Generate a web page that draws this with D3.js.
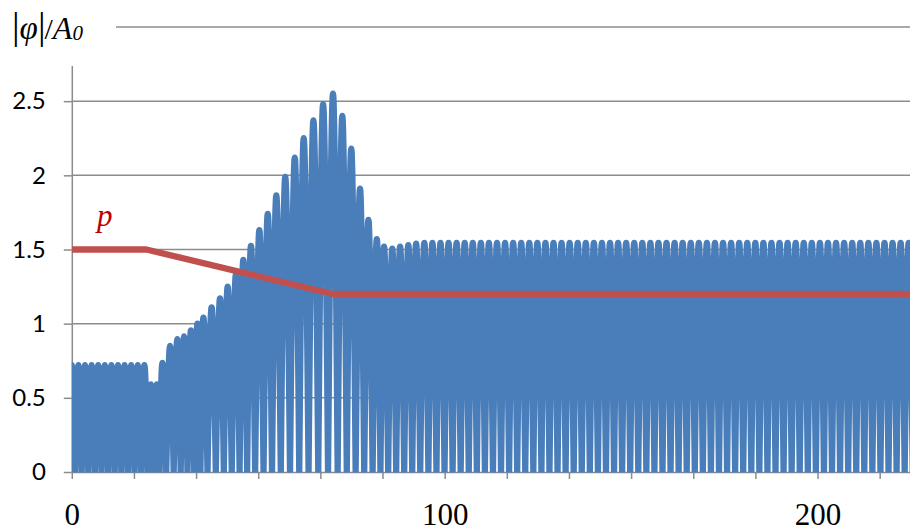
<!DOCTYPE html>
<html>
<head>
<meta charset="utf-8">
<script src="https://cdn.jsdelivr.net/npm/d3@7"></script>
<style>
  html, body { margin: 0; padding: 0; background: #fff; }
  svg { display: block; }
</style>
</head>
<body>
<svg id="chart" width="910" height="532"></svg>
<script>
// |φ|/A0 oscillation: time of each crest and its height (troughs return to 0)
const peakTime = [
  0, 1.77, 3.54, 5.31, 7.08, 8.85, 10.62, 12.39, 14.16, 15.93, 17.70, 19.47,
  21.2, 22.8,
  24.3, 26.35, 28.3, 30.1, 31.95, 33.7, 35.3, 37.5, 39.75, 41.8, 44.0, 46.0,
  48.05, 50.3, 52.55, 54.85, 57.25, 59.8, 62.2, 64.8, 67.4, 70.05, 72.55, 74.95,
  77.3, 79.55, 81.8, 83.75, 85.95, 88.05, 90.25, 92.35,
  94.55, 96.72, 98.88, 101.05, 103.21, 105.38, 107.54, 109.71, 111.87, 114.04,
  116.2, 118.37, 120.53, 122.7, 124.86, 127.03, 129.19, 131.36, 133.52, 135.69,
  137.85, 140.02, 142.18, 144.35, 146.51, 148.68, 150.84, 153.01, 155.17, 157.34,
  159.5, 161.67, 163.83, 166.0, 168.16, 170.33, 172.49, 174.66, 176.82, 178.99,
  181.15, 183.32, 185.48, 187.65, 189.81, 191.98, 194.14, 196.31, 198.47, 200.64,
  202.8, 204.97, 207.13, 209.3, 211.46, 213.63, 215.79, 217.96, 220.12, 222.29,
  224.45
];
const peakValue = [
  0.72, 0.72, 0.72, 0.72, 0.72, 0.72, 0.72, 0.72, 0.72, 0.72, 0.72, 0.72,
  0.59, 0.59,
  0.735, 0.85, 0.895, 0.915, 0.955, 1.0, 1.04, 1.11, 1.17, 1.25, 1.33, 1.43,
  1.525, 1.63, 1.74, 1.865, 1.99, 2.12, 2.25, 2.37, 2.48, 2.55, 2.40, 2.18,
  1.91, 1.70, 1.57, 1.52, 1.505, 1.52, 1.53, 1.54,
  1.545, 1.545, 1.545, 1.545, 1.545, 1.545, 1.545, 1.545, 1.545, 1.545,
  1.545, 1.545, 1.545, 1.545, 1.545, 1.545, 1.545, 1.545, 1.545, 1.545,
  1.545, 1.545, 1.545, 1.545, 1.545, 1.545, 1.545, 1.545, 1.545, 1.545,
  1.545, 1.545, 1.545, 1.545, 1.545, 1.545, 1.545, 1.545, 1.545, 1.545,
  1.545, 1.545, 1.545, 1.545, 1.545, 1.545, 1.545, 1.545, 1.545, 1.545,
  1.545, 1.545, 1.545, 1.545, 1.545, 1.545, 1.545, 1.545, 1.545, 1.545,
  1.545
];

// control parameter p
const pTime = [0, 20, 70, 225];
const pValue = [1.5, 1.5, 1.2, 1.2];

// axes
const yTicks = [0, 0.5, 1, 1.5, 2, 2.5];
const yGrid = [0.5, 1, 1.5, 2, 2.5, 3];
const xLabels = [0, 100, 200];
const xTickStep = 100 / 6;

const W = 910, H = 532;
const plotLeft = 71.8, plotBottom = 472, plotTop = 27;
const x = d3.scaleLinear().domain([0, 224.8]).range([plotLeft, W]);
const y = d3.scaleLinear().domain([0, 3]).range([plotBottom, plotTop]);

const svg = d3.select('#chart');
const gridColor = '#8c8c8c';

// horizontal gridlines
svg.append('g')
  .selectAll('line').data(yGrid).join('line')
  .attr('x1', plotLeft).attr('x2', W)
  .attr('y1', d => y(d)).attr('y2', d => y(d))
  .attr('stroke', gridColor).attr('stroke-width', 1.5);

// y axis
const yAxis = svg.append('g')
  .attr('transform', `translate(${plotLeft},0)`)
  .call(d3.axisLeft(y).tickValues(yTicks).tickSize(8).tickSizeOuter(0)
    .tickPadding(18).tickFormat(d => String(d)));
yAxis.select('.domain').attr('stroke', gridColor).attr('stroke-width', 1.5);
yAxis.selectAll('.tick line').attr('stroke', gridColor).attr('stroke-width', 1.5);
yAxis.selectAll('.tick text')
  .attr('fill', '#000')
  .style('font-family', 'Lato, "Liberation Sans", sans-serif')
  .style('font-size', '24px');

// x axis tick marks
const xAxis = svg.append('g')
  .attr('transform', `translate(0,${plotBottom})`)
  .call(d3.axisBottom(x).tickValues(d3.range(0, 224.8, xTickStep))
    .tickSize(7).tickSizeOuter(0).tickFormat(''));
xAxis.select('.domain').attr('stroke', gridColor).attr('stroke-width', 1.5);
xAxis.selectAll('.tick line').attr('stroke', gridColor).attr('stroke-width', 1.5);

// x labels
const xLab = svg.append('g')
  .attr('transform', `translate(0,${plotBottom})`)
  .call(d3.axisBottom(x).tickValues(xLabels).tickSize(0).tickFormat(d => String(d)));
xLab.select('.domain').remove();
xLab.selectAll('.tick text')
  .attr('y', 53).attr('dy', 0)
  .attr('fill', '#000')
  .style('font-family', '"Liberation Serif", "Times New Roman", serif')
  .style('font-size', '31px');

// clip to plot area
svg.append('clipPath').attr('id', 'plot')
  .append('rect').attr('x', plotLeft).attr('y', 0)
  .attr('width', W - plotLeft).attr('height', plotBottom + 0.5);

// each crest drawn as an arch from trough to trough
const n = peakTime.length;
const archPoints = [];
for (let i = 0; i < n; i++) {
  const a = i === 0 ? peakTime[0] - (peakTime[1] - peakTime[0]) / 2
                    : (peakTime[i - 1] + peakTime[i]) / 2;
  const b = i === n - 1 ? peakTime[i] + (peakTime[i] - peakTime[i - 1]) / 2
                        : (peakTime[i] + peakTime[i + 1]) / 2;
  archPoints.push([a, 0], [peakTime[i], peakValue[i]], [b, 0], null);
}
const archLine = d3.line()
  .defined(d => d !== null)
  .x(d => x(d[0])).y(d => y(d[1]))
  .curve(d3.curveNatural);

svg.append('path')
  .attr('clip-path', 'url(#plot)')
  .attr('d', archLine(archPoints))
  .attr('fill', 'none')
  .attr('stroke', '#4a7ebb')
  .attr('stroke-width', 6.3)
  .attr('stroke-linecap', 'round')
  .attr('stroke-linejoin', 'round');

// p line
const pLine = d3.line().x((d, i) => x(pTime[i])).y(d => y(d));
svg.append('path')
  .attr('clip-path', 'url(#plot)')
  .attr('d', pLine(pValue))
  .attr('fill', 'none')
  .attr('stroke', '#c0504d')
  .attr('stroke-width', 6.3)
  .attr('stroke-linejoin', 'round');

// p label
svg.append('text')
  .attr('x', 97).attr('y', 226)
  .attr('fill', '#c00000')
  .style('font-family', '"Liberation Serif", "Times New Roman", serif')
  .style('font-style', 'italic')
  .style('font-size', '31px')
  .text('p');

// y-axis title box
svg.append('rect').attr('x', 0).attr('y', 0).attr('width', 116).attr('height', 66)
  .attr('fill', '#fff');
const title = svg.append('text')
  .attr('x', 12).attr('y', 39)
  .attr('fill', '#000')
  .style('font-family', '"Liberation Serif", "Times New Roman", serif');
title.append('tspan').style('font-size', '38px').text('|');
title.append('tspan').style('font-size', '33px').style('font-style', 'italic').text('φ');
title.append('tspan').style('font-size', '38px').text('|');
title.append('tspan').style('font-size', '30px').attr('dx', -1).text('/');
title.append('tspan').style('font-size', '32px').style('font-style', 'italic').text('A');
title.append('tspan').style('font-size', '21px').style('font-style', 'italic').attr('dy', 1).text('0');
</script>
</body>
</html>
